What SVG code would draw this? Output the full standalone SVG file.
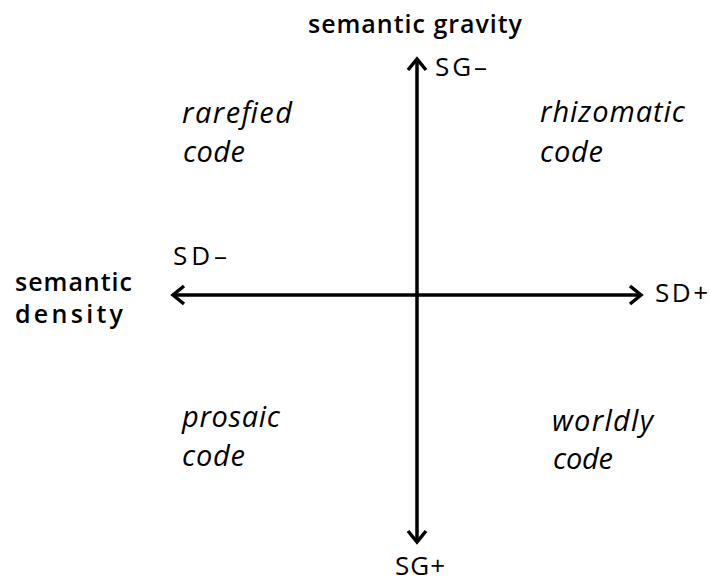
<svg xmlns="http://www.w3.org/2000/svg" width="710" height="583" viewBox="0 0 710 583">
<style>
text{font-family:"Open Sans","Noto Sans","Liberation Sans",sans-serif;fill:#000}
.ax{font-size:26px}
.lb{font-size:25px;font-weight:600}
.q{font-size:29px;font-style:italic}
.line{stroke:#000;stroke-width:3.5;fill:none}
.head{stroke:#000;stroke-width:3.5;fill:none;stroke-linejoin:miter;stroke-linecap:butt}
</style>
<rect width="710" height="583" fill="#fff"/>
<g id="connectors">
<line class="line" x1="417" y1="60" x2="417" y2="541"/>
<polyline class="head" points="408,70 417,59 426,70"/>
<polyline class="head" points="408,531 417,542 426,531"/>
<line class="line" x1="174" y1="295" x2="640" y2="295"/>
<polyline class="head" points="184,286 173,295 184,304"/>
<polyline class="head" points="630,286 641,295 630,304"/>
</g>
<g id="axis-gravity">
<text class="lb" x="308" y="33" textLength="214" lengthAdjust="spacing">semantic gravity</text>
<text class="ax" x="435" y="76" textLength="52" lengthAdjust="spacing">SG–</text>
<text class="ax" x="395" y="575" textLength="50" lengthAdjust="spacing">SG+</text>
</g>
<g id="axis-density">
<text class="lb" x="15" y="291" textLength="117" lengthAdjust="spacing">semantic</text>
<text class="lb" x="15" y="323" textLength="108" lengthAdjust="spacing">density</text>
<text class="ax" x="173" y="265" textLength="54" lengthAdjust="spacing">SD–</text>
<text class="ax" x="655" y="302" textLength="53" lengthAdjust="spacing">SD+</text>
</g>
<g id="rarefied"><text class="q" x="182" y="123" textLength="110" lengthAdjust="spacing">rarefied</text><text class="q" x="183" y="162" textLength="62" lengthAdjust="spacing">code</text></g>
<g id="rhizomatic"><text class="q" x="540" y="122" textLength="145" lengthAdjust="spacing">rhizomatic</text><text class="q" x="540" y="162" textLength="63" lengthAdjust="spacing">code</text></g>
<g id="prosaic"><text class="q" x="182" y="427" textLength="98" lengthAdjust="spacing">prosaic</text><text class="q" x="182" y="466" textLength="63" lengthAdjust="spacing">code</text></g>
<g id="worldly"><text class="q" x="552" y="431" textLength="101" lengthAdjust="spacing">worldly</text><text class="q" x="553" y="469" textLength="60" lengthAdjust="spacing">code</text></g>
</svg>
